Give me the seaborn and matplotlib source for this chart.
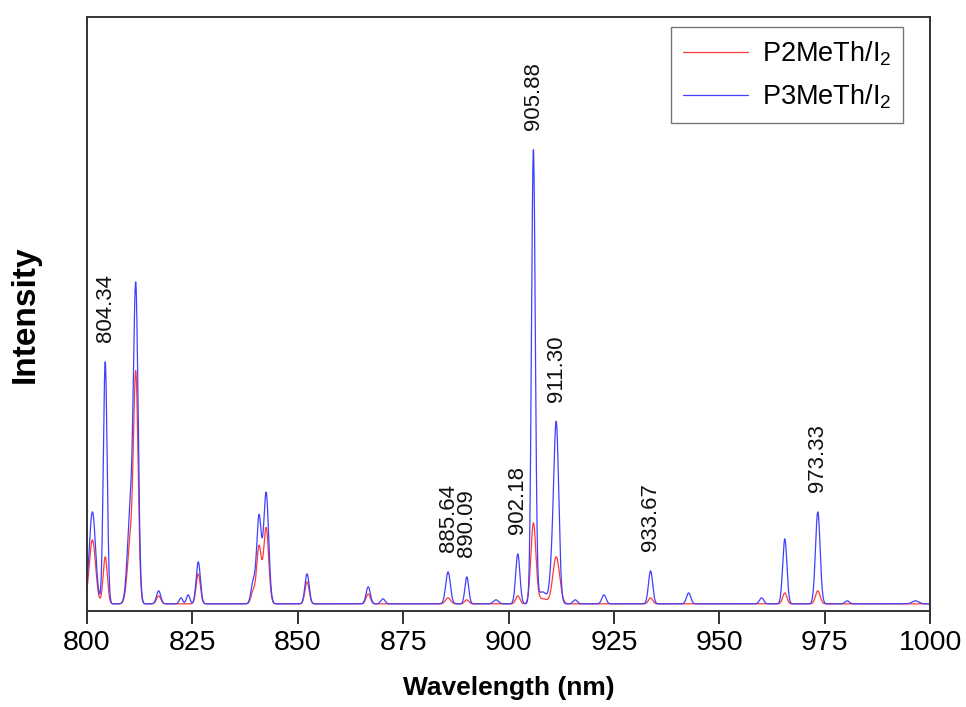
import numpy as np
import pandas as pd
import matplotlib
matplotlib.use("Agg")
import matplotlib.pyplot as plt
import seaborn as sns

# Emission lines: centre (nm), peak intensity (a.u.), gaussian width sigma (nm)
p2_centers = [801.3, 804.34, 810.3, 811.6, 817.0, 826.4, 839.4, 840.8, 842.5,
              852.2, 866.7, 885.64, 890.09, 902.18, 905.88, 908.0, 911.30,
              933.67, 965.5, 973.33]
p2_heights = [64, 47, 60, 222, 8, 30, 12, 57, 76,
              22, 10, 6, 4, 8, 80, 5, 47,
              6, 11, 13]
p2_widths = [0.75, 0.5, 0.7, 0.55, 0.5, 0.5, 0.5, 0.55, 0.6,
             0.5, 0.5, 0.6, 0.5, 0.5, 0.6, 1.2, 0.8,
             0.5, 0.5, 0.55]

p3_centers = [801.3, 804.34, 810.3, 811.6, 817.0, 822.3, 824.0, 826.4, 839.4,
              840.8, 842.5, 852.2, 866.7, 870.2, 885.64, 890.09, 897.0, 902.18,
              905.88, 908.0, 910.2, 911.30, 915.8, 922.6, 933.67, 942.7, 960.0,
              965.5, 973.33, 980.3, 996.5]
p3_heights = [92, 242, 90, 305, 13, 6, 9, 42, 21,
              87, 111, 30, 17, 5, 32, 27, 4, 50,
              452, 12, 25, 180, 4, 9, 33, 11, 6,
              65, 92, 3, 3]
p3_widths = [0.75, 0.45, 0.7, 0.55, 0.5, 0.4, 0.4, 0.5, 0.5,
             0.55, 0.6, 0.5, 0.5, 0.5, 0.55, 0.45, 0.6, 0.5,
             0.45, 1.2, 0.5, 0.6, 0.5, 0.5, 0.5, 0.5, 0.5,
             0.5, 0.55, 0.5, 0.8]

baseline = 2.0
peak_labels = ["804.34", "885.64", "890.09", "902.18", "905.88",
               "911.30", "933.67", "973.33"]
series_names = ["P2MeTh/I$\\mathregular{_2}$", "P3MeTh/I$\\mathregular{_2}$"]
xticks = [800, 825, 850, 875, 900, 925, 950, 975, 1000]

wl = np.linspace(800, 1000, 4001)


def spectrum(centers, heights, widths):
    y = np.full_like(wl, baseline)
    for c, h, s in zip(centers, heights, widths):
        y += h * np.exp(-0.5 * ((wl - c) / s) ** 2)
    return y


y2 = spectrum(p2_centers, p2_heights, p2_widths)
y3 = spectrum(p3_centers, p3_heights, p3_widths)

df = pd.DataFrame({
    "Wavelength": np.concatenate([wl, wl]),
    "Intensity": np.concatenate([y2, y3]),
    "Sample": [series_names[0]] * len(wl) + [series_names[1]] * len(wl),
})

sns.set_theme(style="white")
plt.rcParams["font.family"] = ["Liberation Sans", "DejaVu Sans"]
plt.rcParams["mathtext.fontset"] = "custom"
plt.rcParams["mathtext.rm"] = "Liberation Sans"
plt.rcParams["text.color"] = "black"
plt.rcParams["axes.labelcolor"] = "black"
plt.rcParams["xtick.color"] = "black"

fig = plt.figure(figsize=(9.66, 7.07), dpi=100)
ax = fig.add_axes([0.090, 0.136, 0.873, 0.840])

sns.lineplot(data=df, x="Wavelength", y="Intensity", hue="Sample",
             palette=["#ff3a3a", "#4040ff"], linewidth=0.9, ax=ax,
             estimator=None, sort=False)

ax.set_xlim(800, 1000)
ax.set_ylim(-5, 589)
ax.set_xticks(xticks)
ax.set_xticklabels([str(t) for t in xticks], fontsize=20.5)
ax.set_yticks([])
ax.tick_params(axis="x", direction="out", length=9, width=1.3,
               color="#222222", bottom=True, pad=5)
for sp in ax.spines.values():
    sp.set_color("#333333")
    sp.set_linewidth(1.4)

ax.set_xlabel("Wavelength (nm)", fontsize=19, fontweight="bold", labelpad=14)
ax.set_ylabel("Intensity", fontsize=24, fontweight="bold", labelpad=33)

# Wavelength labels above the P3MeTh/I2 lines
for lab in peak_labels:
    x0 = float(lab)
    win = (wl > x0 - 0.6) & (wl < x0 + 0.6)
    ytop = y3[win].max()
    ax.annotate(lab, xy=(x0, ytop), xytext=(0, 14), textcoords="offset points",
                rotation=90, ha="center", va="bottom", fontsize=16,
                color="#111111")

leg = ax.legend(loc="upper right", bbox_to_anchor=(0.968, 0.983),
                fontsize=19.5, frameon=True, fancybox=False, handlelength=2.4,
                borderpad=0.45, labelspacing=0.55, handletextpad=0.5,
                borderaxespad=0)
leg.get_frame().set_edgecolor("#555555")
leg.get_frame().set_linewidth(1.0)

fig.savefig("out.png", dpi=100)
